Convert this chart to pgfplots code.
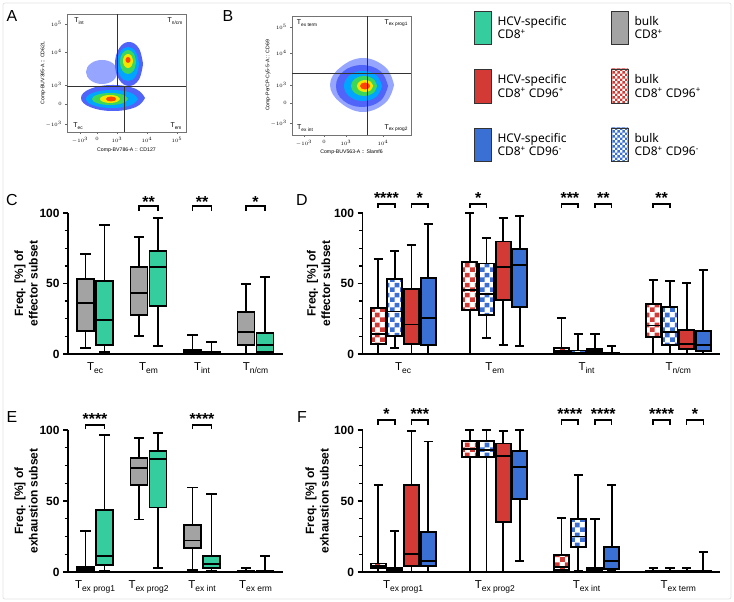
\documentclass[border=0pt]{standalone}
\usepackage{fontspec}
\setmainfont{Liberation Sans}
\newfontfamily\legfont{Noto Sans}
\usepackage{pgfplots}
\pgfplotsset{compat=1.18}
\usetikzlibrary{patterns}
\definecolor{cgreen}{HTML}{35CC9E}
\definecolor{cgray}{HTML}{A3A3A3}
\definecolor{cred}{HTML}{D43A35}
\definecolor{cblue}{HTML}{3A6FD3}
\definecolor{fl1}{RGB}{80,100,250}
\definecolor{fl0}{RGB}{150,165,255}
\definecolor{fl2}{RGB}{0,165,255}
\definecolor{fl3}{RGB}{60,215,90}
\definecolor{fl4}{RGB}{245,230,0}
\definecolor{fl5}{RGB}{255,70,0}
\pgfdeclarepatternformonly{bigcheck}{\pgfpointorigin}{\pgfqpoint{10bp}{10bp}}{\pgfqpoint{10bp}{10bp}}{%
\pgfpathrectangle{\pgfpointorigin}{\pgfqpoint{5bp}{5bp}}%
\pgfpathrectangle{\pgfqpoint{5bp}{5bp}}{\pgfqpoint{5bp}{5bp}}%
\pgfusepath{fill}}
\pgfdeclarepatternformonly{smallcheck}{\pgfpointorigin}{\pgfqpoint{5.4bp}{5.4bp}}{\pgfqpoint{5.4bp}{5.4bp}}{%
\pgfpathrectangle{\pgfpointorigin}{\pgfqpoint{2.7bp}{2.7bp}}%
\pgfpathrectangle{\pgfqpoint{2.7bp}{2.7bp}}{\pgfqpoint{2.7bp}{2.7bp}}%
\pgfusepath{fill}}
\newcommand{\Tsub}[1]{T\raisebox{-0.45ex}{\fontsize{8.5}{8.5}\selectfont #1}}
\newcommand{\Ts}[1]{T\raisebox{-0.4ex}{\fontsize{4.8}{4.8}\selectfont #1}}
% half box width, half cap width (axis units)
\newcommand{\setw}[2]{\def\bw{#1}\def\cw{#2}}
% box: #1 fill, #2 position, #3 lower whisker, #4 lower quartile, #5 median, #6 upper quartile, #7 upper whisker
\newcommand{\mb}[7]{%
 \pgfmathsetmacro\xL{#2-\bw}\pgfmathsetmacro\xR{#2+\bw}%
 \pgfmathsetmacro\cL{#2-\cw}\pgfmathsetmacro\cR{#2+\cw}%
 \edef\tmp{%
 \noexpand\addplot[bl] coordinates {(#2,#6)(#2,#7)};
 \noexpand\addplot[bl] coordinates {(\cL,#7)(\cR,#7)};
 \noexpand\addplot[bl] coordinates {(#2,#4)(#2,#3)};
 \noexpand\addplot[bl] coordinates {(\cL,#3)(\cR,#3)};
 \noexpand\addplot[draw=none, #1, forget plot] coordinates {(\xL,#4)(\xR,#4)(\xR,#6)(\xL,#6)};
 \noexpand\addplot[bl] coordinates {(\xL,#4)(\xR,#4)(\xR,#6)(\xL,#6)(\xL,#4)(\xR,#4)};
 \noexpand\addplot[bl] coordinates {(\xL,#5)(\xR,#5)};
 }\tmp}
% corners of a checkered box: #1 name, #2 left, #3 right, #4 lower quartile, #5 upper quartile
\newcommand{\cq}[5]{\coordinate (#1a) at (axis cs:#2,#4); \coordinate (#1b) at (axis cs:#3,#5);}
\newcommand{\pf}[2]{\fill[pattern=bigcheck, pattern color=#2] (#1a) rectangle (#1b);}
\newcommand{\sig}[7]{%
\addplot[bl, line width=1.5bp] coordinates {(#1,#5)(#1,#4)(#2,#4)(#2,#5)};
\node[font=\bfseries\fontsize{16}{16}\selectfont, inner sep=0, anchor=base] at (axis cs:#3,#6) {#7};}
\pgfplotsset{
 bl/.style={black, line width=1.9bp, line join=miter, forget plot},
 pan/.style={scale only axis, clip=false, anchor=south west,
  axis lines*=left, axis line style={line width=1.7bp, black},
  ymin=0, ymax=100, ytick={0,50,100}, yticklabels={\textbf{0},\textbf{50},\textbf{100}},
  minor ytick={12.5,25,37.5,62.5,75,87.5},
  tick align=outside, major tick length=5bp, minor tick length=3.5bp,
  tick style={black, line width=1.4bp}, xtick={0,1,2,3}, xtick style={draw=none},
  yticklabel style={font=\fontsize{12}{12}\selectfont},
  xticklabel style={font=\fontsize{11.5}{11.5}\selectfont},
  every axis y label/.style={rotate=90, anchor=center, align=center, font=\bfseries\fontsize{12}{14.5}\selectfont}},
 ghost/.style={scale only axis, anchor=south west, hide axis, ymin=0, ymax=100},
 flow/.style={scale only axis, anchor=south west, axis line style={black!55, line width=0.6bp},
  tick pos=left, tick align=outside, major tick length=1.8bp, tick style={black!60, line width=0.4bp},
  tick label style={font=\fontsize{4.5}{5}\selectfont},
  xlabel style={font=\fontsize{5.2}{6}\selectfont, anchor=center},
  ylabel style={font=\fontsize{5.2}{6}\selectfont, anchor=center}},
 blob/.style={draw=none, smooth, tension=0.7},
}
\begin{document}
\begin{tikzpicture}[x=1bp,y=1bp]
\fill[white] (0,0) rectangle (734,602);
\useasboundingbox (0,0) rectangle (734,602);
\draw[black!10, line width=0.8bp, rounded corners=2bp] (3,3) rectangle (731,599);
% panel letters
\foreach \L/\X/\Y in {A/12/586, B/228/586, C/12/402, D/302/402, E/12/185, F/302/185}
  \node[font=\fontsize{16}{16}\selectfont] at (\X,\Y) {\L};

% ---------------- A
\begin{axis}[flow, at={(67bp,470bp)}, width=119bp, height=118bp, xmin=67, xmax=186, ymin=-132, ymax=-14,
 xtick={80,97,117,147,177}, xticklabels={$-10^3$,$0$,$10^3$,$10^4$,$10^5$},
 ytick={-124,-104,-85,-52,-24}, yticklabels={$-10^3$,$0$,$10^3$,$10^4$,$10^5$},
 xlabel={Comp-BV786-A :: CD127}, ylabel={Comp-BUV395-A :: CD62L},
 xlabel style={at={(axis description cs:0.5,-0.153)}}, ylabel style={at={(axis description cs:-0.2,0.5)}}]
\addplot[blob, fill=fl0] coordinates {(118,-72)(113.2,-80.5)(102,-84)(90.8,-80.5)(86,-72)(90.8,-63.5)(102,-60)(113.2,-63.5)(118,-72)};
\addplot[blob, fill=fl1] coordinates {(145,-98)(135.6,-107.2)(113,-111)(90.4,-107.2)(81,-98)(90.4,-88.8)(113,-85)(135.6,-88.8)(145,-98)};
\addplot[blob, fill=fl1] coordinates {(143,-64)(138.9,-79.6)(129,-86)(119.1,-79.6)(115,-64)(119.1,-48.4)(129,-42)(138.9,-48.4)(143,-64)};
\addplot[blob, fill=fl2] coordinates {(138,-99)(130.4,-105.4)(112,-108)(93.6,-105.4)(86,-99)(93.6,-92.6)(112,-90)(130.4,-92.6)(138,-99)};
\addplot[blob, fill=fl2] coordinates {(139,-64)(135.8,-76)(128,-81)(120.2,-76)(117,-64)(120.2,-52)(128,-47)(135.8,-52)(139,-64)};
\addplot[blob, fill=fl3] coordinates {(128,-99)(122.7,-103.2)(110,-105)(97.3,-103.2)(92,-99)(97.3,-94.8)(110,-93)(122.7,-94.8)(128,-99)};
\addplot[blob, fill=fl3] coordinates {(136,-62)(133.7,-70.5)(128,-74)(122.3,-70.5)(120,-62)(122.3,-53.5)(128,-50)(133.7,-53.5)(136,-62)};
\addplot[blob, fill=fl4] coordinates {(120,-99)(117.1,-101.8)(110,-103)(102.9,-101.8)(100,-99)(102.9,-96.2)(110,-95)(117.1,-96.2)(120,-99)};
\addplot[blob, fill=fl4] coordinates {(133,-61)(131.5,-66)(128,-68)(124.5,-66)(123,-61)(124.5,-56)(128,-54)(131.5,-56)(133,-61)};
\addplot[blob, fill=fl5] coordinates {(116,-99)(114.5,-100.8)(111,-101.5)(107.5,-100.8)(106,-99)(107.5,-97.2)(111,-96.5)(114.5,-97.2)(116,-99)};
\addplot[blob, fill=fl5] coordinates {(130.5,-60)(129.8,-62.1)(128,-63)(126.2,-62.1)(125.5,-60)(126.2,-57.9)(128,-57)(129.8,-57.9)(130.5,-60)};
\addplot[black!80, line width=0.6bp] coordinates {(67,-86)(186,-86)};
\addplot[black!80, line width=0.6bp] coordinates {(117,-86)(117,-14)};
\addplot[black!80, line width=0.6bp] coordinates {(124,-132)(124,-86)};
\node[font=\fontsize{7}{7}\selectfont] at (axis cs:79,-21) {\Ts{int}};
\node[font=\fontsize{7}{7}\selectfont] at (axis cs:175,-21) {\Ts{n/cm}};
\node[font=\fontsize{7}{7}\selectfont] at (axis cs:78,-126) {\Ts{ec}};
\node[font=\fontsize{7}{7}\selectfont] at (axis cs:176,-126) {\Ts{em}};
\end{axis}

% ---------------- B
\begin{axis}[flow, at={(292bp,467bp)}, width=119bp, height=119bp, xmin=292, xmax=411, ymin=-135, ymax=-16,
 xtick={304,324,346,383}, xticklabels={$-10^3$,$0$,$10^3$,$10^4$},
 ytick={-123,-103,-85,-53,-27}, yticklabels={$-10^3$,$0$,$10^3$,$10^4$,$10^5$},
 xlabel={Comp-BUV563-A :: Slamf6}, ylabel={Comp-PerCP-Cy5-5-A :: CD69},
 xlabel style={at={(axis description cs:0.5,-0.143)}}, ylabel style={at={(axis description cs:-0.2,0.5)}}]
\addplot[blob, fill=fl0] coordinates {(394,-85)(385.5,-102.7)(363,-112)(340.5,-102.7)(330,-85)(340.5,-67.3)(363,-58)(385.5,-67.3)(394,-85)};
\addplot[blob, fill=fl1] coordinates {(388,-86)(380.4,-100.8)(362,-107)(343.6,-100.8)(336,-86)(343.6,-71.2)(362,-65)(380.4,-71.2)(388,-86)};
\addplot[blob, fill=fl2] coordinates {(382,-86)(376.4,-96.6)(363,-101)(349.6,-96.6)(344,-86)(349.6,-75.4)(363,-71)(376.4,-75.4)(382,-86)};
\addplot[blob, fill=fl3] coordinates {(377,-86)(373.2,-93.1)(364,-96)(354.8,-93.1)(351,-86)(354.8,-78.9)(364,-76)(373.2,-78.9)(377,-86)};
\addplot[blob, fill=fl4] coordinates {(373,-86)(370.7,-90.2)(365,-92)(359.3,-90.2)(357,-86)(359.3,-81.8)(365,-80)(370.7,-81.8)(373,-86)};
\addplot[blob, fill=fl5] coordinates {(370,-86)(368.5,-88.5)(365,-89.5)(361.5,-88.5)(360,-86)(361.5,-83.5)(365,-82.5)(368.5,-83.5)(370,-86)};
\addplot[black!80, line width=0.6bp] coordinates {(292,-73)(411,-73)};
\addplot[black!80, line width=0.6bp] coordinates {(367,-135)(367,-16)};
\node[font=\fontsize{7}{7}\selectfont] at (axis cs:307,-23) {\Ts{ex term}};
\node[font=\fontsize{7}{7}\selectfont] at (axis cs:396,-23) {\Ts{ex prog1}};
\node[font=\fontsize{7}{7}\selectfont] at (axis cs:305,-128) {\Ts{ex int}};
\node[font=\fontsize{7}{7}\selectfont] at (axis cs:396,-128) {\Ts{ex prog2}};
\end{axis}

% ---------------- legend
\draw[black!80, line width=0.8bp, fill=cgreen] (474,558) rectangle (491,591);
\draw[black!80, line width=0.8bp, fill=cred] (474,499) rectangle (491,533);
\draw[black!80, line width=0.8bp, fill=cblue] (474,441) rectangle (491,474);
\draw[black!80, line width=0.8bp, fill=cgray] (611,558) rectangle (628,591);
\fill[white] (611,499) rectangle (628,533);
\fill[pattern=smallcheck, pattern color=cred] (611,499) rectangle (628,533);
\draw[black!80, line width=0.8bp] (611,499) rectangle (628,533);
\fill[white] (611,441) rectangle (628,474);
\fill[pattern=smallcheck, pattern color=cblue] (611,441) rectangle (628,474);
\draw[black!80, line width=0.8bp] (611,441) rectangle (628,474);
\begin{scope}[every node/.style={anchor=west, align=left, font=\legfont\fontsize{12}{13.5}\selectfont}]
\node at (494,574.5) {HCV-specific\\CD8\textsuperscript{+}};
\node at (494,516) {HCV-specific\\CD8\textsuperscript{+} CD96\textsuperscript{+}};
\node at (494,457.5) {HCV-specific\\CD8\textsuperscript{+} CD96\textsuperscript{-}};
\node at (631,574.5) {bulk\\CD8\textsuperscript{+}};
\node at (631,516) {bulk\\CD8\textsuperscript{+} CD96\textsuperscript{+}};
\node at (631,457.5) {bulk\\CD8\textsuperscript{+} CD96\textsuperscript{-}};
\end{scope}

% ---------------- C
\setw{0.159}{0.095}
\begin{axis}[pan, at={(68bp,248bp)}, width=215bp, height=141bp, xmin=-0.505, xmax=3.514,
 xticklabels={{\Tsub{ec}},{\Tsub{em}},{\Tsub{int}},{\Tsub{n/cm}}},
 ylabel={Freq. [\%] of\\effector subset}, ylabel style={at={(axis description cs:-0.195,0.5)}}]
\mb{fill=cgray}{-0.178}{4.3}{16.5}{36}{53.4}{71}
\mb{fill=cgreen}{0.178}{1.2}{6.6}{24}{51.5}{91.7}
\mb{fill=cgray}{0.822}{12.5}{27.7}{43.3}{62}{82.7}
\mb{fill=cgreen}{1.178}{5.4}{34.3}{61.5}{72.8}{96.2}
\mb{fill=cgray}{1.822}{0}{0.5}{1.4}{3}{13.7}
\mb{fill=cgreen}{2.178}{0}{0.3}{0.8}{1.2}{8.5}
\mb{fill=cgray}{2.822}{0}{6.6}{15.4}{30}{49.9}
\mb{fill=cgreen}{3.178}{0}{1.4}{6.4}{14.9}{54.4}
\sig{0.822}{1.178}{1}{105}{101.6}{104.1}{**}
\sig{1.822}{2.178}{2}{105}{101.6}{104.1}{**}
\sig{2.822}{3.178}{3}{105}{101.6}{104.1}{*}
\end{axis}

% ---------------- D : checkered box areas (from quartiles)
\begin{axis}[ghost, at={(362.5bp,248bp)}, width=357.5bp, height=141bp, xmin=-0.443, xmax=3.455]
\cq{d1}{-0.355}{-0.191}{7.1}{32.5}
\cq{d2}{-0.173}{-0.009}{12.9}{52.9}
\cq{d3}{0.645}{0.809}{31.3}{65.4}
\cq{d4}{0.827}{0.991}{27.5}{64.2}
\cq{d5}{1.645}{1.809}{1}{4}
\cq{d6}{1.827}{1.991}{0.3}{2.5}
\cq{d7}{2.645}{2.809}{12}{35.3}
\cq{d8}{2.827}{2.991}{6.6}{33.2}
\end{axis}
\pf{d1}{cred}\pf{d2}{cblue}\pf{d3}{cred}\pf{d4}{cblue}
\pf{d5}{cred}\pf{d6}{cblue}\pf{d7}{cred}\pf{d8}{cblue}

% ---------------- D
\setw{0.082}{0.05}
\begin{axis}[pan, at={(362.5bp,248bp)}, width=357.5bp, height=141bp, xmin=-0.443, xmax=3.455,
 xticklabels={{\Tsub{ec}},{\Tsub{em}},{\Tsub{int}},{\Tsub{n/cm}}},
 ylabel={Freq. [\%] of\\effector subset}, ylabel style={at={(axis description cs:-0.123,0.5)}}]
\mb{fill=none}{-0.273}{0}{7.1}{14.1}{32.5}{67.3}
\mb{fill=none}{-0.091}{4.5}{12.9}{30.1}{52.9}{72.9}
\mb{fill=cred}{0.091}{0}{7.1}{20.9}{45.9}{77.2}
\mb{fill=cblue}{0.273}{0}{6.1}{25.4}{53.6}{92.5}
\mb{fill=none}{0.727}{0}{31.3}{45.4}{65.4}{100}
\mb{fill=none}{0.909}{11.5}{27.5}{42.6}{64.2}{82.4}
\mb{fill=cred}{1.091}{6.6}{38.6}{61.6}{79.8}{96.7}
\mb{fill=cblue}{1.273}{5.9}{33.6}{63.1}{74.6}{98.1}
\mb{fill=none}{1.727}{0}{1}{1.9}{4}{25.4}
\mb{fill=none}{1.909}{0}{0.3}{1}{2.5}{14.4}
\mb{fill=cred}{2.091}{0}{1.4}{2.8}{3.8}{14.4}
\mb{fill=cblue}{2.273}{0}{0.1}{0.25}{0.5}{5.4}
\mb{fill=none}{2.727}{0}{12}{20.2}{35.3}{52.5}
\mb{fill=none}{2.909}{0}{6.6}{15.3}{33.2}{52}
\mb{fill=cred}{3.091}{0}{3.5}{7.3}{17.2}{50.1}
\mb{fill=cblue}{3.273}{0}{1.9}{6.1}{16}{59.5}
\sig{-0.273}{-0.091}{-0.182}{106.4}{103.8}{107}{****}
\sig{0.091}{0.273}{0.182}{106.4}{103.8}{107}{*}
\sig{0.727}{0.909}{0.818}{106.4}{103.8}{107}{*}
\sig{1.727}{1.909}{1.818}{106.4}{103.8}{107}{***}
\sig{2.091}{2.273}{2.182}{106.4}{103.8}{107}{**}
\sig{2.727}{2.909}{2.818}{106.4}{103.8}{107}{**}
\end{axis}

% ---------------- E
\setw{0.159}{0.095}
\begin{axis}[pan, at={(68bp,30bp)}, width=215bp, height=142bp, xmin=-0.505, xmax=3.514,
 xticklabels={{\Tsub{ex prog1}},{\Tsub{ex prog2}},{\Tsub{ex int}},{\Tsub{ex erm}}},
 ylabel={Freq. [\%] of\\exhaustion subset}, ylabel style={at={(axis description cs:-0.195,0.5)}}]
\mb{fill=cgray}{-0.178}{0.7}{1.4}{2.3}{3.5}{28.6}
\mb{fill=cgreen}{0.178}{0.9}{4.7}{11.5}{43.6}{96.7}
\mb{fill=cgray}{0.822}{37}{61.4}{73.5}{80.3}{94.1}
\mb{fill=cgreen}{1.178}{2.8}{45.4}{79.6}{85}{97.7}
\mb{fill=cgray}{1.822}{1.2}{16.9}{22.2}{32.8}{59.5}
\mb{fill=cgreen}{2.178}{0.5}{2.6}{5.9}{11}{54.8}
\mb{fill=cgray}{2.822}{0}{0.1}{0.3}{0.8}{3}
\mb{fill=cgreen}{3.178}{0}{0.1}{0.2}{0.4}{11.5}
\sig{-0.178}{0.178}{0}{103.5}{100.7}{104.2}{****}
\sig{1.822}{2.178}{2}{103.5}{100.7}{104.2}{****}
\end{axis}

% ---------------- F : checkered box areas
\begin{axis}[ghost, at={(362.5bp,30bp)}, width=357.5bp, height=142bp, xmin=-0.443, xmax=3.455]
\cq{f1}{-0.355}{-0.191}{2.6}{6}
\cq{f2}{-0.173}{-0.009}{1.4}{2.9}
\cq{f3}{0.645}{0.809}{81.2}{92.4}
\cq{f4}{0.827}{0.991}{81.2}{92.4}
\cq{f5}{1.645}{1.809}{1.4}{11.9}
\cq{f6}{1.827}{1.991}{17.4}{37.6}
\end{axis}
\pf{f1}{cred}\pf{f2}{cblue}\pf{f3}{cred}\pf{f4}{cblue}\pf{f5}{cred}\pf{f6}{cblue}

% ---------------- F
\setw{0.082}{0.05}
\begin{axis}[pan, at={(362.5bp,30bp)}, width=357.5bp, height=142bp, xmin=-0.443, xmax=3.455,
 xticklabels={{\Tsub{ex prog1}},{\Tsub{ex prog2}},{\Tsub{ex int}},{\Tsub{ex term}}},
 ylabel={Freq. [\%] of\\exhaustion subset}, ylabel style={at={(axis description cs:-0.127,0.5)}}]
\mb{fill=none}{-0.273}{0}{2.6}{4.3}{6}{61.4}
\mb{fill=none}{-0.091}{0}{1.4}{2.1}{2.9}{28.6}
\mb{fill=cred}{0.091}{0}{4.3}{12.4}{61.4}{99}
\mb{fill=cblue}{0.273}{0}{4.3}{7.6}{28.1}{91.9}
\mb{fill=none}{0.727}{0}{81.2}{86.9}{92.4}{100}
\mb{fill=none}{0.909}{0}{81.2}{86.2}{92.4}{100}
\mb{fill=cred}{1.091}{0}{35.2}{81.7}{90.5}{99.5}
\mb{fill=cblue}{1.273}{7.9}{51.2}{74}{85.2}{100}
\mb{fill=none}{1.727}{0}{1.4}{3.8}{11.9}{38.1}
\mb{fill=none}{1.909}{1}{17.4}{25}{37.6}{68.1}
\mb{fill=cred}{2.091}{0}{1.2}{1.9}{3.1}{37.6}
\mb{fill=cblue}{2.273}{1}{2.4}{7.6}{17.4}{61.4}
\mb{fill=none}{2.727}{0}{0.1}{0.25}{0.5}{2.9}
\mb{fill=none}{2.909}{0}{0.1}{0.25}{0.5}{3.1}
\mb{fill=cred}{3.091}{0}{0.1}{0.25}{0.5}{2.9}
\mb{fill=cblue}{3.273}{0}{0.1}{0.25}{0.5}{14.3}
\sig{-0.273}{-0.091}{-0.182}{107}{103.8}{107.2}{*}
\sig{0.091}{0.273}{0.182}{107}{103.8}{107.2}{***}
\sig{1.727}{1.909}{1.818}{107}{103.8}{107.2}{****}
\sig{2.091}{2.273}{2.182}{107}{103.8}{107.2}{****}
\sig{2.727}{2.909}{2.818}{107}{103.8}{107.2}{****}
\sig{3.091}{3.273}{3.182}{107}{103.8}{107.2}{*}
\end{axis}
\end{tikzpicture}
\end{document}
